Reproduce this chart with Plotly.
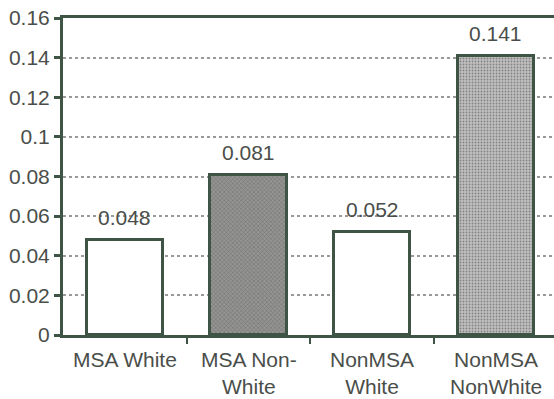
import plotly.graph_objects as go

categories = ["MSA White", "MSA Non-<br>White", "NonMSA<br>White", "NonMSA<br>NonWhite"]
values = [0.048, 0.081, 0.052, 0.141]
value_labels = ["0.048", "0.081", "0.052", "0.141"]
y_ticks = [0, 0.02, 0.04, 0.06, 0.08, 0.1, 0.12, 0.14, 0.16]
y_tick_text = ["0", "0.02", "0.04", "0.06", "0.08", "0.1", "0.12", "0.14", "0.16"]

INK = "#3e5444"
TEXT = "#4a4e4a"
FS = 21

fill_colors = ["#ffffff", "#949593", "#ffffff", "#c0c0c0"]
fg_colors = ["#ffffff", "#6c6e6b", "#ffffff", "#9c9c9c"]
shapes = ["", "x", "", "."]

fig = go.Figure()
fig.add_trace(go.Bar(
    x=list(range(len(categories))),
    y=values,
    width=0.615,
    marker=dict(
        color=fill_colors,
        line=dict(color=INK, width=3),
        pattern=dict(shape=shapes, fgcolor=fg_colors, size=3,
                     solidity=0.3, fillmode="overlay"),
    ),
    hoverinfo="skip",
))

for i, (v, t) in enumerate(zip(values, value_labels)):
    fig.add_annotation(x=i, y=v, text=t, showarrow=False, yanchor="bottom",
                       yshift=9, font=dict(size=FS, color=TEXT))

fig.update_layout(
    width=554, height=399,
    margin=dict(l=63, r=0, t=18, b=64),
    paper_bgcolor="white", plot_bgcolor="white",
    font=dict(family="Liberation Sans, Arial, sans-serif", size=FS, color=TEXT),
    showlegend=False,
    bargap=0,
)
fig.update_xaxes(
    range=[-0.5, 3.47],
    tickmode="array", tickvals=[0.5, 1.5, 2.5], ticktext=["", "", ""],
    ticks="outside", ticklen=6, tickwidth=2, tickcolor=INK,
    showline=True, linecolor=INK, linewidth=3, mirror=True,
    showgrid=False, zeroline=False,
)
# category labels placed under each bar
for i, c in enumerate(categories):
    fig.add_annotation(x=i, y=0, xref="x", yref="y", text=c, showarrow=False,
                       yanchor="top", yshift=-11, font=dict(size=FS, color=TEXT))
fig.update_yaxes(
    range=[0, 0.16],
    tickmode="array", tickvals=y_ticks, ticktext=y_tick_text,
    ticks="outside", ticklen=6, tickwidth=3, tickcolor=INK,
    showline=True, linecolor=INK, linewidth=3,
    showgrid=True, gridcolor="#999999", gridwidth=2, griddash="dot",
    zeroline=False,
)

fig.write_html("out.html")
